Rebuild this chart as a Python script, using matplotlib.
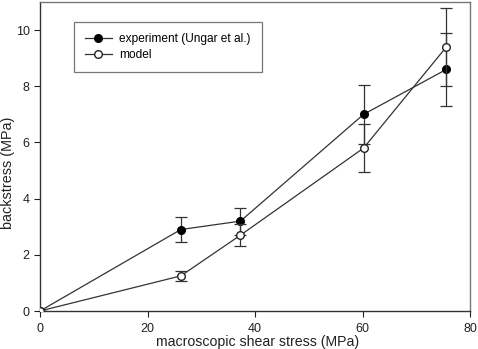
import matplotlib
matplotlib.use('Agg')
import matplotlib.pyplot as plt
from matplotlib.lines import Line2D

# data
x_exp = [0, 26.2, 37.3, 60.2, 75.6]
y_exp = [0, 2.9, 3.2, 7.0, 8.6]
err_exp = [0, 0.44, 0.48, 1.05, 1.3]

x_mod = [0, 26.2, 37.3, 60.2, 75.6]
y_mod = [0, 1.25, 2.7, 5.8, 9.4]
err_mod = [0, 0.18, 0.4, 0.85, 1.4]

xticks = [0, 20, 40, 60, 80]
yticks = [0, 2, 4, 6, 8, 10]


def main():
    plt.rcParams['font.family'] = ['Liberation Sans', 'DejaVu Sans']
    fig = plt.figure(figsize=(4.78, 3.49), dpi=100)
    ax = fig.add_axes([40 / 478, 1 - 311 / 349, 430 / 478, 309 / 349])

    lc = '#333333'
    ax.errorbar(x_exp, y_exp, yerr=err_exp, color=lc, lw=0.9, marker='o',
                ms=5.5, mfc='black', mec='black', capsize=4, elinewidth=0.9,
                capthick=0.9, zorder=3)
    ax.errorbar(x_mod, y_mod, yerr=err_mod, color=lc, lw=0.9, marker='o',
                ms=5.5, mfc='white', mec='#222222', capsize=4, elinewidth=0.9,
                capthick=0.9, zorder=4)

    ax.set_xlim(0, 80)
    ax.set_ylim(0, 11)
    ax.set_xticks(xticks)
    ax.set_yticks(yticks)
    ax.tick_params(direction='out', length=4, labelsize=9, colors='#222222')
    ax.tick_params(axis='x', pad=5)
    ax.tick_params(axis='y', pad=3.5)
    for s in ['top', 'right']:
        ax.spines[s].set_color('#777777')
    for s in ['left', 'bottom']:
        ax.spines[s].set_color('#333333')
    for s in ax.spines.values():
        s.set_linewidth(1.0)

    ax.set_xlabel('macroscopic shear stress (MPa)', fontsize=10.2, color='#222222')
    ax.set_ylabel('backstress (MPa)', fontsize=10.4, color='#222222')
    ax.xaxis.set_label_coords(0.505, -0.079)
    ax.yaxis.set_label_coords(-0.057, 0.447)

    handles = [
        Line2D([], [], color=lc, lw=0.9, marker='o', ms=5.5, mfc='black', mec='black'),
        Line2D([], [], color=lc, lw=0.9, marker='o', ms=5.5, mfc='white', mec='#222222'),
    ]
    labels = ['experiment (Ungar et al.)', 'model']
    leg = ax.legend(handles, labels, loc='upper left',
                    bbox_to_anchor=((74 - 40) / 430, (311 - 22) / 309),
                    borderaxespad=0,
                    fontsize=8.6, fancybox=False, framealpha=1, edgecolor='#777777',
                    handlelength=2.3, handletextpad=0.6, borderpad=0.9,
                    labelspacing=0.35)
    leg.get_frame().set_linewidth(0.9)

    plt.savefig('out.png', dpi=100)


if __name__ == '__main__':
    main()
